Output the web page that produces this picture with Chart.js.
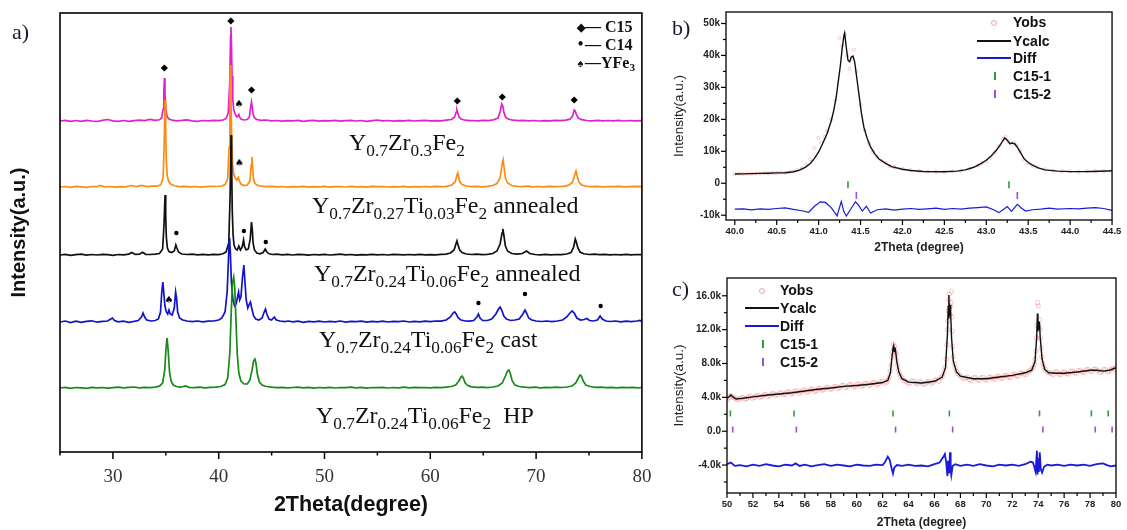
<!DOCTYPE html>
<html><head><meta charset="utf-8">
<script src="https://cdn.jsdelivr.net/npm/chart.js@4.4.1/dist/chart.umd.min.js"></script>
<style>
html,body{margin:0;padding:0;background:#fff;}
#wrap{position:relative;width:1127px;height:530px;overflow:hidden;background:#fff;}
canvas{position:absolute;}
.f{position:absolute;white-space:nowrap;font-family:"Liberation Serif","Times New Roman",serif;font-size:24px;line-height:1;color:#111;}
.f sub{font-size:0.72em;vertical-align:-0.32em;line-height:0;}
.pl{position:absolute;white-space:nowrap;font-family:"Liberation Serif","Times New Roman",serif;font-size:22px;line-height:1;color:#1a1a2e;}
.la{position:absolute;white-space:nowrap;font-family:"Liberation Serif","Times New Roman",serif;font-weight:bold;font-size:16px;line-height:1;color:#111;}
.la sub{font-size:0.7em;vertical-align:-0.25em;line-height:0;}
.la .s{display:inline-block;width:9px;text-align:center;font-size:11px;vertical-align:1px;}
.lg{position:absolute;white-space:nowrap;font-family:"Liberation Sans",Arial,sans-serif;font-weight:bold;font-size:14px;line-height:1;color:#111;}
.sym{position:absolute;}
</style></head>
<body>
<div id="wrap">
<canvas id="ca" width="665" height="530" style="left:0;top:0;width:665px;height:530px"></canvas>
<canvas id="cb" width="462" height="262" style="left:665px;top:0;width:462px;height:262px"></canvas>
<canvas id="cc" width="462" height="265" style="left:665px;top:265px;width:462px;height:265px"></canvas>

<div class="pl" style="left:12px;top:21px">a)</div>
<div class="pl" style="left:672px;top:17px">b)</div>
<div class="pl" style="left:672px;top:278px">c)</div>

<div class="f" style="left:349px;top:130px">Y<sub>0.7</sub>Zr<sub>0.3</sub>Fe<sub>2</sub></div>
<div class="f" style="left:312px;top:193px">Y<sub>0.7</sub>Zr<sub>0.27</sub>Ti<sub>0.03</sub>Fe<sub>2</sub> annealed</div>
<div class="f" style="left:314px;top:261px">Y<sub>0.7</sub>Zr<sub>0.24</sub>Ti<sub>0.06</sub>Fe<sub>2</sub> annealed</div>
<div class="f" style="left:319px;top:327px">Y<sub>0.7</sub>Zr<sub>0.24</sub>Ti<sub>0.06</sub>Fe<sub>2</sub> cast</div>
<div class="f" style="left:316px;top:403px">Y<sub>0.7</sub>Zr<sub>0.24</sub>Ti<sub>0.06</sub>Fe<sub>2</sub>&nbsp; HP</div>

<div class="la" style="left:576px;top:19px"><span class="s">&#9670;</span>&#8212; C15</div>
<div class="la" style="left:576px;top:36px"><span class="s" style="font-size:16px">&#8226;</span>&#8212; C14</div>
<div class="la" style="left:576px;top:55px"><span class="s">&#9824;</span>&#8212;YFe<sub>3</sub></div>

<!-- legend b -->
<span class="sym" style="left:991px;top:20px;width:4px;height:4px;border:1px solid rgba(235,100,100,.6);border-radius:50%"></span>
<div class="lg" style="left:1013px;top:15px">Yobs</div>
<span class="sym" style="left:977px;top:40px;width:34px;height:2px;background:#111"></span>
<div class="lg" style="left:1013px;top:34px">Ycalc</div>
<span class="sym" style="left:977px;top:57px;width:34px;height:2px;background:#1a1ad8"></span>
<div class="lg" style="left:1013px;top:51px">Diff</div>
<span class="sym" style="left:994px;top:72px;width:2px;height:8px;background:#2e9e3e"></span>
<div class="lg" style="left:1013px;top:69px">C15-1</div>
<span class="sym" style="left:994px;top:90px;width:2px;height:8px;background:#9b4fd6"></span>
<div class="lg" style="left:1013px;top:87px">C15-2</div>

<!-- legend c -->
<span class="sym" style="left:759px;top:288px;width:4px;height:4px;border:1px solid rgba(235,100,100,.6);border-radius:50%"></span>
<div class="lg" style="left:780px;top:283px">Yobs</div>
<span class="sym" style="left:745px;top:307px;width:34px;height:2px;background:#111"></span>
<div class="lg" style="left:780px;top:301px">Ycalc</div>
<span class="sym" style="left:745px;top:325px;width:34px;height:2px;background:#1a1ad8"></span>
<div class="lg" style="left:780px;top:319px">Diff</div>
<span class="sym" style="left:762px;top:340px;width:2px;height:8px;background:#2e9e3e"></span>
<div class="lg" style="left:780px;top:337px">C15-1</div>
<span class="sym" style="left:762px;top:358px;width:2px;height:8px;background:#9b4fd6"></span>
<div class="lg" style="left:780px;top:355px">C15-2</div>
</div>

<script>
// ---------- Panel a data (2Theta, intensity a.u.) ----------
const aXTicks=[30,40,50,60,70,80];
const aXMinor=[25,35,45,55,65,75];
const aOffsets={pink:331,orange:265,black:197,blue:130,green:64};

const pinkTrace=[[25,0],[25.5,0.6],[26,-0.4],[26.5,0.5],[27,-0.3],[27.5,0.7],[28,0],[28.5,-0.5],[29,0.6],[29.5,1.5],[30,0.2],[30.5,-0.4],[31,0.5],[31.5,-0.3],[32,0.4],[32.5,0.8],[33,0.3],[33.5,1.6],[34,0.6],[34.4,1.2],[34.6,3],[34.75,12],[34.82,30],[34.87,43],[34.92,28],[34.98,14],[35.05,8],[35.15,4],[35.3,2],[35.6,0.8],[36,0.2],[36.5,0.6],[37,1.2],[37.5,0.2],[38,-0.3],[38.5,0.5],[39,0.1],[39.5,0.7],[40,0.4],[40.4,1],[40.7,2.5],[40.9,8],[41.05,40],[41.12,85],[41.16,94],[41.2,80],[41.26,45],[41.33,22],[41.42,11],[41.55,7],[41.7,4],[41.82,5],[41.9,6.5],[41.97,4],[42.1,2],[42.4,1],[42.7,1.5],[42.9,4],[43.02,14],[43.1,19],[43.17,14],[43.25,7],[43.38,3],[43.6,1.5],[44,0.6],[44.5,1],[45,0.2],[45.5,0.5],[46,-0.2],[46.5,0.4],[47,0.1],[47.5,0.6],[48,-0.3],[48.5,0.3],[49,0.6],[49.5,-0.2],[50,0.4],[50.5,0.1],[51,0.7],[51.5,-0.2],[52,0.3],[52.5,0.6],[53,0],[53.5,0.5],[54,-0.3],[54.5,0.4],[55,1],[55.5,0.2],[56,0.5],[56.5,-0.2],[57,0.4],[57.5,0.1],[58,0.6],[58.5,0],[59,0.3],[59.5,0.6],[60,0.1],[60.5,0.4],[61,0.2],[61.5,0.8],[62,1.5],[62.3,4],[62.45,9],[62.52,11],[62.6,8],[62.72,4],[62.9,2],[63.3,0.8],[63.7,0.3],[64,0.5],[64.5,0.2],[65,0.6],[65.5,0.4],[66,1.2],[66.4,3],[66.62,10],[66.75,17],[66.85,15],[66.95,9],[67.1,4],[67.35,2],[67.8,0.8],[68.3,0.3],[68.8,0.6],[69.3,0.2],[69.8,0.5],[70.3,0],[70.8,0.4],[71.3,0.2],[71.8,0.6],[72.3,0.3],[72.8,0.8],[73.2,1.8],[73.45,5],[73.6,11],[73.7,10],[73.82,6],[74,3],[74.3,1.3],[74.8,0.5],[75.3,0.2],[75.8,0.6],[76.3,0.1],[76.8,0.5],[77.3,0.2],[77.8,0.6],[78.3,0],[78.8,0.5],[79.3,0.2],[80,0.4]];

const orangeTrace=[[25,0],[25.5,0.5],[26,-0.3],[26.5,0.6],[27,0.1],[27.5,-0.4],[28,0.5],[28.5,0.3],[28.8,1.6],[29.2,0.2],[29.7,0.5],[30.2,-0.2],[30.7,0.4],[31.2,0.2],[31.7,1.5],[32.2,0.3],[32.7,1.6],[33.2,0.4],[33.7,0.9],[34.2,0.8],[34.55,2.5],[34.75,10],[34.85,45],[34.93,87],[34.99,55],[35.05,25],[35.13,12],[35.25,6],[35.45,3],[35.8,1.2],[36.3,0.4],[36.8,0.6],[37.3,0.1],[37.8,0.5],[38.3,-0.2],[38.8,0.4],[39.3,0.6],[39.8,0.5],[40.3,1],[40.6,2.5],[40.85,8],[40.98,40],[41.06,105],[41.1,122],[41.15,100],[41.22,50],[41.3,24],[41.4,14],[41.55,9],[41.7,7],[41.85,9.5],[41.95,6],[42.1,3],[42.4,1.5],[42.7,2],[42.95,6],[43.07,22],[43.14,30],[43.2,20],[43.28,9],[43.4,4],[43.6,2],[44,0.8],[44.5,0.4],[45,0.7],[45.5,0.1],[46,0.5],[46.5,-0.2],[47,0.4],[47.5,0.2],[48,0.6],[48.5,-0.1],[49,0.4],[49.5,0.1],[50,0.6],[50.5,-0.2],[51,0.3],[51.5,0.5],[52,0],[52.5,0.6],[53,0.2],[53.5,0.4],[54,-0.2],[54.5,0.6],[55,0.3],[55.5,0.5],[56,0],[56.5,0.4],[57,0.2],[57.5,0.6],[58,-0.1],[58.5,0.4],[59,0.2],[59.5,0.5],[60,0.1],[60.5,0.6],[61,0.3],[61.5,0.7],[62,1.8],[62.35,5],[62.52,12],[62.6,14],[62.68,10],[62.8,5],[63,2.5],[63.4,1],[63.9,0.4],[64.4,0.6],[64.9,0.2],[65.4,0.7],[65.9,1.5],[66.3,3.5],[66.6,9],[66.78,22],[66.88,27],[66.97,20],[67.1,9],[67.3,4],[67.7,1.5],[68.2,0.6],[68.7,0.3],[69.2,0.8],[69.7,0.2],[70.2,0.5],[70.7,0.1],[71.2,0.6],[71.7,0.3],[72.2,0.5],[72.7,0.8],[73.1,1.8],[73.45,5],[73.65,12],[73.77,16],[73.88,11],[74.05,5],[74.3,2],[74.8,0.7],[75.3,0.3],[75.8,0.6],[76.3,0.1],[76.8,0.5],[77.3,0.3],[77.8,0.6],[78.3,0.1],[78.8,0.4],[79.3,0.6],[80,0.3]];

const blackTrace=[[25,0],[25.5,0.6],[26,-0.4],[26.5,0.4],[27,0.8],[27.5,-0.2],[28,0.5],[28.5,0],[29,0.6],[29.5,0.3],[30,-0.3],[30.5,0.5],[31,0.2],[31.5,0.9],[31.8,2.5],[32.1,0.6],[32.5,0.8],[32.8,2.8],[33.1,0.7],[33.5,0.5],[34,0.8],[34.4,1.5],[34.7,6],[34.83,30],[34.93,60],[34.99,40],[35.05,18],[35.15,7],[35.3,3.5],[35.55,2.5],[35.8,4],[35.95,10],[36.05,7],[36.2,3],[36.5,1],[37,0.5],[37.5,0.9],[38,0.2],[38.5,0.7],[39,0.1],[39.5,0.6],[40,0.4],[40.4,1.2],[40.7,3],[40.95,12],[41.08,60],[41.17,120],[41.22,95],[41.28,45],[41.36,20],[41.45,10],[41.6,6],[41.75,5],[41.9,9],[42.05,5],[42.22,8],[42.35,15],[42.45,8],[42.6,5],[42.8,6],[42.98,16],[43.1,33],[43.17,26],[43.25,12],[43.38,5],[43.6,2],[43.9,1.2],[44.2,2.5],[44.4,6],[44.52,3.5],[44.75,1.2],[45.1,0.5],[45.5,0.8],[46,0.2],[46.5,0.6],[47,0],[47.5,0.7],[48,0.3],[48.5,-0.2],[49,0.5],[49.5,0.2],[50,0.6],[50.5,0],[51,0.4],[51.5,0.8],[52,0.1],[52.5,0.5],[53,-0.2],[53.5,0.4],[54,0.1],[54.5,0.6],[55,0.2],[55.5,0.5],[56,0],[56.5,0.6],[57,0.3],[57.5,0.1],[58,0.5],[58.5,0.2],[59,0.7],[59.5,0.1],[60,0.4],[60.5,0.2],[61,0.6],[61.5,0.9],[61.9,2],[62.25,5],[62.42,11],[62.52,14],[62.62,10],[62.78,5],[63,2.5],[63.4,1],[63.9,0.5],[64.4,0.8],[64.9,0.3],[65.4,0.6],[65.9,1.5],[66.3,4],[66.6,11],[66.78,22],[66.86,26],[66.95,20],[67.1,9],[67.3,4],[67.7,1.5],[68.2,0.8],[68.7,1.5],[69.1,4],[69.4,1.5],[69.9,0.5],[70.4,0.2],[70.9,0.6],[71.4,0.1],[71.9,0.5],[72.4,0.3],[72.9,1],[73.3,2.5],[73.55,8],[73.7,16],[73.8,13],[73.95,7],[74.15,3],[74.5,1.2],[75,0.5],[75.5,0.8],[76,0.3],[76.5,0.6],[77,0.1],[77.5,0.5],[78,0.2],[78.5,0.6],[79,0.1],[79.5,0.5],[80,0.3]];

const blueTrace=[[25,0],[25.5,1],[26,-0.5],[26.5,0.8],[27,-0.3],[27.5,0.6],[28,1.2],[28.5,-0.2],[29,0.7],[29.5,1],[29.8,3],[29.95,4],[30.15,1.5],[30.5,0.2],[31,0.8],[31.5,-0.3],[32,0.6],[32.4,1.5],[32.7,5],[32.85,9],[33,5],[33.2,2],[33.6,1],[34,1.5],[34.3,3],[34.5,10],[34.62,30],[34.72,40],[34.82,28],[34.92,16],[35.05,10],[35.18,8],[35.3,12],[35.42,8],[35.6,7],[35.8,14],[35.93,30],[36.02,24],[36.12,10],[36.3,4],[36.6,2],[37,1],[37.5,0.4],[38,1],[38.5,0.2],[39,0.8],[39.5,1],[40,2],[40.3,4],[40.6,10],[40.8,30],[40.95,70],[41.03,84],[41.1,70],[41.2,40],[41.35,22],[41.5,16],[41.65,18],[41.78,25],[41.88,30],[41.98,22],[42.1,25],[42.25,45],[42.38,57],[42.48,40],[42.6,22],[42.75,14],[42.9,18],[43.0,20],[43.12,14],[43.3,6],[43.5,3],[43.8,2],[44.1,4],[44.3,10],[44.42,13],[44.55,8],[44.75,3],[45.0,2],[45.25,5],[45.45,2],[45.8,1],[46.2,0.3],[46.6,1],[47,0.2],[47.5,0.9],[48,-0.3],[48.5,0.6],[49,0.2],[49.5,0.9],[50,0],[50.5,0.7],[51,0.2],[51.5,1],[52,-0.2],[52.5,0.6],[53,0.3],[53.5,0.8],[54,-0.1],[54.5,0.7],[55,0.2],[55.5,0.9],[56,0],[56.5,0.6],[57,0.3],[57.5,1],[58,0],[58.5,0.7],[59,0.2],[59.5,0.8],[60,0.4],[60.5,1],[61,0.8],[61.5,2],[61.9,5],[62.15,9],[62.3,10],[62.45,8],[62.65,4],[62.9,2],[63.3,1],[63.7,0.8],[64.1,1.5],[64.4,5],[64.55,8],[64.7,4],[64.95,1.5],[65.4,1.5],[65.8,3],[66.2,8],[66.45,13],[66.6,15],[66.75,12],[66.95,6],[67.2,3],[67.6,1.5],[68,2],[68.4,3],[68.75,8],[68.95,12],[69.1,9],[69.3,4],[69.6,2],[70,1],[70.5,0.5],[71,1],[71.5,0.4],[72,1],[72.5,2],[72.9,5],[73.2,9],[73.4,11],[73.6,9],[73.85,4],[74.2,2],[74.55,2.5],[74.8,3.5],[75.05,1.5],[75.4,1],[75.8,2],[76.05,6],[76.25,3],[76.6,1],[77,0.5],[77.5,1],[78,0.2],[78.5,0.8],[79,0.3],[79.5,1],[79.8,1.5],[80,0.6]];

const greenTrace=[[25,0],[25.5,0.6],[26,-0.3],[26.5,0.5],[27,0.2],[27.5,-0.4],[28,0.6],[28.5,0.1],[29,0.5],[29.5,-0.2],[30,0.4],[30.5,0.8],[31,0.1],[31.5,0.6],[32,1],[32.5,0.2],[33,0.6],[33.5,0.4],[34,0.9],[34.4,1.8],[34.7,5],[34.9,18],[35.02,40],[35.12,50],[35.22,38],[35.35,16],[35.5,7],[35.7,3],[36,1.5],[36.4,0.8],[36.85,2],[37.2,0.6],[37.7,0.3],[38.2,0.8],[38.7,0.2],[39.2,0.6],[39.7,0.8],[40.2,1.5],[40.6,3.5],[40.85,10],[41.05,35],[41.2,80],[41.3,105],[41.42,111],[41.52,100],[41.62,70],[41.75,35],[41.9,15],[42.1,7],[42.4,4],[42.7,4],[42.95,8],[43.15,18],[43.3,27],[43.42,29],[43.52,25],[43.65,14],[43.85,6],[44.1,3],[44.5,1.5],[45,0.8],[45.5,0.3],[46,0.7],[46.5,0.1],[47,0.5],[47.5,0.8],[48,0.2],[48.5,0.6],[49,-0.1],[49.5,0.5],[50,0.2],[50.5,0.7],[51,0],[51.5,0.5],[52,0.3],[52.5,0.8],[53,0.1],[53.5,0.6],[54,-0.2],[54.5,0.5],[55,0.3],[55.5,0.7],[56,0],[56.5,0.5],[57,0.2],[57.5,0.8],[58,0.1],[58.5,0.6],[59,0.3],[59.5,0.5],[60,0.1],[60.5,0.7],[61,0.4],[61.5,0.9],[62,1.5],[62.4,3],[62.7,7],[62.9,11],[63.0,12],[63.12,10],[63.3,5],[63.55,2.5],[63.9,1.2],[64.4,0.6],[64.9,0.9],[65.4,0.4],[65.9,1],[66.4,2],[66.8,5],[67.1,12],[67.3,17],[67.42,18],[67.55,15],[67.75,7],[68,3],[68.4,1.5],[68.9,0.8],[69.4,0.4],[69.9,0.8],[70.4,0.2],[70.9,0.6],[71.4,0.3],[71.9,0.8],[72.4,0.5],[72.9,1],[73.4,2],[73.75,5],[74.0,10],[74.15,13],[74.28,12],[74.45,7],[74.7,3],[75.1,1.5],[75.6,0.6],[76.1,0.9],[76.6,0.3],[77.1,0.7],[77.6,0.2],[78.1,0.6],[78.6,0.3],[79.1,0.7],[79.6,0.2],[80,0.5]];

const c15Marks=[[34.86,384],[41.15,431],[43.1,362],[62.55,351],[66.8,355],[73.6,352]];
const c14Marks=[[36.0,219],[42.38,221],[44.45,210],[64.55,149],[68.95,158],[76.1,146]];
const yfe3Marks=[[41.92,349],[41.95,290],[35.3,153]];

// ---------- Panel b data (2Theta, counts) ----------
const bXTicks=[40,40.5,41,41.5,42,42.5,43,43.5,44,44.5];
const bXMinor=[40.25,40.75,41.25,41.75,42.25,42.75,43.25,43.75,44.25];
const bYTicks=[-10000,0,10000,20000,30000,40000,50000];
const bYMinor=[-5000,5000,15000,25000,35000,45000];
const bCalc=[[40.0,2900],[40.1,2950],[40.2,3000],[40.3,3100],[40.4,3150],[40.5,3250],[40.6,3300],[40.7,3600],[40.77,4100],[40.84,5000],[40.9,6200],[40.95,7800],[41.0,9800],[41.05,12500],[41.1,15500],[41.15,19500],[41.18,22700],[41.21,27000],[41.23,31000],[41.26,37000],[41.28,42000],[41.3,46000],[41.31,47000],[41.33,42500],[41.35,38500],[41.37,38000],[41.39,39500],[41.41,39800],[41.43,38000],[41.46,32000],[41.48,28000],[41.51,22000],[41.54,17500],[41.58,14000],[41.62,11300],[41.67,9200],[41.72,7600],[41.8,6200],[41.87,5200],[42.0,4400],[42.1,4000],[42.25,3700],[42.5,3600],[42.65,3800],[42.75,4200],[42.85,5000],[42.92,5900],[43.0,7200],[43.06,8600],[43.12,10300],[43.17,12200],[43.22,14200],[43.25,13500],[43.28,12400],[43.31,12600],[43.34,12300],[43.37,11300],[43.41,9500],[43.45,7700],[43.5,6500],[43.55,5700],[43.62,4800],[43.7,4200],[43.85,3800],[44.0,3650],[44.15,3650],[44.25,3700],[44.35,3750],[44.45,3850],[44.5,3900]];
const bObs=[[40.0,2800],[40.05,3000],[40.1,2900],[40.15,3050],[40.2,2950],[40.25,3100],[40.3,3050],[40.35,3200],[40.4,3100],[40.45,3250],[40.5,3200],[40.55,3350],[40.6,3250],[40.65,3450],[40.7,3700],[40.75,4100],[40.8,4600],[40.85,5800],[40.9,7500],[40.95,11000],[41.0,14200],[41.03,12800],[41.07,14500],[41.1,16200],[41.15,20000],[41.2,26000],[41.25,45500],[41.28,43000],[41.31,46500],[41.34,40000],[41.37,35800],[41.4,39000],[41.42,41800],[41.45,35000],[41.5,24500],[41.55,16500],[41.6,12500],[41.65,9800],[41.7,8300],[41.75,7000],[41.8,6300],[41.85,5400],[41.9,5000],[42.0,4500],[42.1,4100],[42.2,3800],[42.3,3650],[42.4,3600],[42.5,3550],[42.6,3750],[42.7,3950],[42.8,4500],[42.9,5600],[42.95,6300],[43.0,6900],[43.05,8000],[43.1,9600],[43.15,11500],[43.2,13800],[43.23,14500],[43.26,13200],[43.3,12200],[43.33,12800],[43.36,11800],[43.4,10000],[43.45,7400],[43.5,6300],[43.55,5500],[43.6,5000],[43.7,4300],[43.8,3900],[43.9,3700],[44.0,3700],[44.1,3600],[44.2,3750],[44.3,3700],[44.4,3800],[44.5,3950]];
const bDiff=[[40.0,-8100],[40.1,-8000],[40.2,-8300],[40.3,-8000],[40.4,-8200],[40.5,-7900],[40.6,-7700],[40.7,-8200],[40.8,-8600],[40.88,-9100],[40.95,-7200],[41.02,-5800],[41.08,-6000],[41.15,-7600],[41.22,-10200],[41.27,-5700],[41.3,-8800],[41.33,-10300],[41.38,-8200],[41.44,-5800],[41.48,-7000],[41.52,-8700],[41.57,-7200],[41.62,-9300],[41.7,-8300],[41.8,-8000],[41.9,-8400],[42.0,-8100],[42.1,-7900],[42.2,-8200],[42.3,-8000],[42.4,-7800],[42.5,-8200],[42.6,-7900],[42.7,-8100],[42.8,-7800],[42.9,-7600],[43.0,-7400],[43.08,-8200],[43.15,-9200],[43.2,-8300],[43.25,-7300],[43.3,-8800],[43.37,-6600],[43.42,-7800],[43.47,-8700],[43.55,-8300],[43.65,-8100],[43.75,-7800],[43.85,-8100],[44.0,-7900],[44.1,-8000],[44.2,-7800],[44.3,-7600],[44.4,-7900],[44.5,-8500]];
const bC151=[41.35,43.27];
const bC152=[41.45,43.37];
const bC151Level=-500, bC152Level=-3800;

// ---------- Panel c data (2Theta, counts) ----------
const cXTicks=[50,52,54,56,58,60,62,64,66,68,70,72,74,76,78,80];
const cXMinor=[51,53,55,57,59,61,63,65,67,69,71,73,75,77,79];
const cYTicks=[-4000,0,4000,8000,12000,16000];
const cYMinor=[-6000,-2000,2000,6000,10000,14000];
const cCalc=[[50.0,3900],[50.2,4100],[50.3,4300],[50.45,4050],[50.7,3800],[51.0,3850],[51.5,3950],[52,4050],[53,4250],[54,4400],[55,4550],[56,4750],[57,4950],[58,5100],[59,5300],[60,5400],[61,5550],[62,5750],[62.4,6000],[62.6,6900],[62.7,8400],[62.8,9800],[62.85,10100],[62.9,9400],[62.95,9900],[63.0,9500],[63.1,8200],[63.25,7000],[63.5,6200],[64,5800],[65,5700],[66,5900],[66.6,6400],[66.85,7500],[67.0,11500],[67.06,14800],[67.1,13300],[67.12,16100],[67.16,13600],[67.2,14900],[67.25,13900],[67.32,11000],[67.45,8300],[67.7,7000],[68,6500],[69,6200],[70,6200],[71,6400],[72,6600],[73,6900],[73.5,7200],[73.75,8200],[73.88,11000],[73.94,13900],[73.98,11800],[74.02,13000],[74.06,12000],[74.1,12900],[74.15,11200],[74.3,8500],[74.5,7300],[74.8,6900],[75.5,6850],[76,6850],[77,7000],[78,7200],[78.5,7200],[79,7100],[79.5,7200],[80,7500]];
const cObs=[[50.0,3700],[50.15,3950],[50.3,4200],[50.45,4000],[50.6,3900],[50.75,3800],[50.9,3750],[51.05,3900],[51.2,4000],[51.35,3800],[51.5,3850],[51.65,4050],[51.8,4150],[51.95,3900],[52.1,4000],[52.25,4200],[52.4,4250],[52.55,4000],[52.7,4100],[52.85,4300],[53.0,4350],[53.15,4100],[53.3,4200],[53.45,4400],[53.6,4450],[53.75,4250],[53.9,4300],[54.05,4550],[54.2,4500],[54.35,4300],[54.5,4400],[54.65,4650],[54.8,4600],[54.95,4400],[55.1,4500],[55.25,4750],[55.4,4750],[55.55,4500],[55.7,4600],[55.85,4850],[56.0,4850],[56.15,4600],[56.3,4700],[56.45,4950],[56.6,4950],[56.75,4700],[56.9,4800],[57.05,5050],[57.2,5050],[57.35,4850],[57.5,4900],[57.65,5150],[57.8,5200],[57.95,4950],[58.1,5000],[58.25,5250],[58.4,5300],[58.55,5050],[58.7,5150],[58.85,5400],[59.0,5400],[59.15,5150],[59.3,5250],[59.45,5500],[59.6,5500],[59.75,5250],[59.9,5300],[60.05,5550],[60.2,5550],[60.35,5300],[60.5,5400],[60.65,5650],[60.8,5650],[60.95,5400],[61.1,5500],[61.25,5750],[61.4,5750],[61.55,5500],[61.7,5600],[61.85,5850],[62.0,5900],[62.15,5650],[62.3,5800],[62.42,6100],[62.5,6400],[62.58,7100],[62.65,7800],[62.7,8700],[62.75,9300],[62.82,10300],[62.88,9700],[62.95,10000],[63.0,9300],[63.05,9000],[63.1,8400],[63.15,7800],[63.22,7200],[63.3,6800],[63.4,6500],[63.5,6300],[63.65,6000],[63.8,5900],[63.95,5650],[64.1,5700],[64.25,5950],[64.4,5900],[64.55,5650],[64.7,5600],[64.85,5850],[65.0,5800],[65.15,5550],[65.3,5600],[65.45,5850],[65.6,5900],[65.75,5650],[65.9,5800],[66.05,6050],[66.2,6100],[66.35,5900],[66.5,6300],[66.62,6500],[66.75,7000],[66.82,7600],[66.9,8500],[66.95,10200],[67.0,12000],[67.03,13000],[67.06,14200],[67.1,15500],[67.14,16200],[67.17,14700],[67.2,13800],[67.23,14800],[67.26,15200],[67.3,16500],[67.33,13500],[67.35,11800],[67.4,10000],[67.45,8800],[67.52,8000],[67.6,7500],[67.7,7100],[67.8,6800],[67.95,6600],[68.1,6400],[68.25,6200],[68.4,6300],[68.55,6400],[68.7,6100],[68.85,6000],[69.0,6300],[69.15,6350],[69.3,6100],[69.45,6000],[69.6,6300],[69.75,6350],[69.9,6100],[70.05,6050],[70.2,6350],[70.35,6400],[70.5,6200],[70.65,6150],[70.8,6450],[70.95,6500],[71.1,6300],[71.25,6250],[71.4,6550],[71.55,6600],[71.7,6400],[71.85,6350],[72.0,6700],[72.15,6750],[72.3,6550],[72.45,6500],[72.6,6850],[72.75,6900],[72.9,6750],[73.05,6700],[73.2,7000],[73.35,7150],[73.5,7300],[73.6,7500],[73.7,7900],[73.76,8500],[73.82,9500],[73.86,11000],[73.9,12500],[73.95,15200],[74.0,14800],[74.05,12300],[74.1,13200],[74.14,12000],[74.18,11000],[74.23,9800],[74.28,8800],[74.35,8000],[74.45,7600],[74.55,7300],[74.7,7000],[74.85,6900],[75.0,6800],[75.15,6700],[75.3,7000],[75.45,7000],[75.6,6750],[75.75,6700],[75.9,6950],[76.05,7000],[76.2,6800],[76.35,6750],[76.5,7050],[76.65,7100],[76.8,6900],[76.95,6850],[77.1,7150],[77.25,7200],[77.4,7000],[77.55,6950],[77.7,7250],[77.85,7300],[78.0,7100],[78.15,7050],[78.3,7300],[78.45,7350],[78.6,7150],[78.75,6950],[78.9,7050],[79.05,7300],[79.2,7250],[79.35,7000],[79.5,7100],[79.65,7350],[79.8,7400],[79.9,7250],[80.0,7600]];
const cDiff=[[50.0,-3900],[50.3,-3700],[50.6,-4100],[51,-4000],[51.5,-4150],[52,-3950],[52.5,-4100],[53,-3900],[53.5,-4050],[54,-4150],[54.5,-3950],[55,-4050],[55.3,-3800],[55.6,-4100],[56,-3950],[56.5,-4150],[57,-4000],[57.5,-3900],[58,-4100],[58.5,-3950],[59,-4050],[59.5,-4150],[60,-3950],[60.5,-4050],[61,-4100],[61.5,-3950],[62,-4000],[62.2,-3600],[62.4,-3000],[62.55,-3400],[62.7,-4400],[62.8,-5000],[62.9,-4300],[63.1,-4000],[63.5,-4100],[64,-3950],[64.5,-4100],[65,-4050],[65.5,-4150],[66,-3900],[66.4,-3700],[66.7,-3000],[66.8,-2700],[66.9,-3600],[67.0,-5300],[67.05,-3500],[67.12,-5000],[67.2,-2500],[67.25,-4600],[67.3,-5200],[67.4,-4100],[67.6,-3900],[68,-4100],[68.5,-3950],[69,-4100],[69.5,-3900],[70,-4050],[70.5,-4150],[71,-3950],[71.5,-4050],[72,-3950],[72.5,-4100],[73,-3900],[73.4,-3600],[73.6,-3700],[73.8,-4800],[73.9,-2300],[73.95,-5100],[74.0,-3200],[74.05,-4800],[74.12,-2500],[74.2,-4500],[74.3,-4900],[74.45,-4200],[74.7,-3950],[75,-4050],[75.5,-3950],[76,-4100],[76.5,-3950],[77,-4050],[77.5,-3950],[78,-4100],[78.5,-3900],[79,-3800],[79.3,-4000],[79.6,-4150],[80,-4050]];
const cC151=[50.26,55.17,62.8,67.15,74.1,78.1,79.4];
const cC152=[50.44,55.35,63.0,67.4,74.36,78.4,79.7];
const cC151Level=2100, cC152Level=200;

// ---------- helpers ----------
const pts=(arr,off=0)=>arr.map(p=>({x:p[0],y:p[1]+off}));
const at=(xs,lvl)=>xs.map(v=>({x:v,y:lvl}));

const frameTicks={id:'frameTicks',afterDatasetsDraw(chart,args,o){
  const {ctx,chartArea:a,scales:{x,y}}=chart;
  ctx.save();ctx.strokeStyle='#000';ctx.lineWidth=o.tickWidth;
  const seg=(x1,y1,x2,y2)=>{ctx.beginPath();ctx.moveTo(x1,y1);ctx.lineTo(x2,y2);ctx.stroke();};
  (o.xMajor||[]).forEach(v=>{const p=x.getPixelForValue(v);seg(p,a.bottom,p,a.bottom+o.major);});
  (o.xMinor||[]).forEach(v=>{const p=x.getPixelForValue(v);seg(p,a.bottom,p,a.bottom+o.minor);});
  (o.yMajor||[]).forEach(v=>{const p=y.getPixelForValue(v);seg(a.left,p,a.left-o.major,p);});
  (o.yMinor||[]).forEach(v=>{const p=y.getPixelForValue(v);seg(a.left,p,a.left-o.minor,p);});
  ctx.lineWidth=o.frame;ctx.strokeRect(a.left,a.top,a.right-a.left,a.bottom-a.top);
  ctx.restore();
}};

function spadeImg(size){
  const c=document.createElement('canvas');c.width=size;c.height=size;
  const g=c.getContext('2d');g.fillStyle='#000';g.font=size+'px "DejaVu Sans"';
  g.textAlign='center';g.textBaseline='middle';g.fillText('\u2660',size/2,size/2+1);
  return c;
}

Chart.defaults.animation=false;
Chart.defaults.plugins.legend.display=false;
Chart.defaults.plugins.tooltip.enabled=false;
Chart.defaults.events=[];

const lineDs=(label,data,color,w)=>({label,data,showLine:true,borderColor:color,backgroundColor:color,borderWidth:w,pointRadius:0,tension:0});

// ---------- Chart a ----------
new Chart(document.getElementById('ca'),{
  type:'scatter',
  data:{datasets:[
    {label:'C15',data:pts(c15Marks),pointStyle:'rectRot',pointRadius:3.6,backgroundColor:'#000',borderColor:'#000',borderWidth:0},
    {label:'C14',data:pts(c14Marks),pointStyle:'circle',pointRadius:2.2,backgroundColor:'#000',borderColor:'#000',borderWidth:0},
    {label:'YFe3',data:pts(yfe3Marks),pointStyle:spadeImg(10),pointRadius:4},
    lineDs('Y0.7Zr0.24Ti0.06Fe2 HP',pts(greenTrace,aOffsets.green),'#178a17',1.7),
    lineDs('Y0.7Zr0.24Ti0.06Fe2 cast',pts(blueTrace,aOffsets.blue),'#1212cc',1.7),
    lineDs('Y0.7Zr0.24Ti0.06Fe2 annealed',pts(blackTrace,aOffsets.black),'#111111',1.7),
    lineDs('Y0.7Zr0.27Ti0.03Fe2 annealed',pts(orangeTrace,aOffsets.orange),'#ff8a12',1.7),
    lineDs('Y0.7Zr0.3Fe2',pts(pinkTrace,aOffsets.pink),'#e020c8',1.7)
  ]},
  options:{responsive:false,devicePixelRatio:1,
    layout:{padding:{left:0,right:9,top:13,bottom:0}},
    scales:{
      x:{type:'linear',min:25,max:80,
        afterBuildTicks:s=>{s.ticks=aXTicks.map(v=>({value:v}));},
        afterFit:s=>{s.height=78;},
        ticks:{autoSkip:false,maxRotation:0,padding:13.6,color:'#333',font:{family:'"Liberation Serif", serif',size:19}},
        grid:{display:false,drawTicks:false},border:{display:false},
        title:{display:true,text:'2Theta(degree)',color:'#111',font:{family:'"Liberation Sans", Arial, sans-serif',size:21.5,weight:'bold'},padding:{top:0,bottom:12}}},
      y:{type:'linear',min:0,max:439,
        afterFit:s=>{s.width=60;},
        ticks:{display:false},grid:{display:false,drawTicks:false},border:{display:false},
        title:{display:true,text:'Intensity(a.u.)',color:'#111',font:{family:'"Liberation Sans", Arial, sans-serif',size:20,weight:'bold'},padding:{top:7,bottom:0}}}
    },
    plugins:{frameTicks:{xMajor:aXTicks,xMinor:aXMinor,major:7,minor:3.5,tickWidth:1.5,frame:1.6}}
  },
  plugins:[frameTicks]
});

// ---------- Chart b/c common ----------
function refineChart(id,cfg){
  new Chart(document.getElementById(id),{
    type:'scatter',
    data:{datasets:[
      {label:'C15-1',data:at(cfg.t1,cfg.l1),pointStyle:'line',rotation:90,pointRadius:cfg.tickR,borderColor:'#2e9e3e',borderWidth:1.6},
      {label:'C15-2',data:at(cfg.t2,cfg.l2),pointStyle:'line',rotation:90,pointRadius:cfg.tickR,borderColor:'#9b4fd6',borderWidth:1.6},
      lineDs('Ycalc',pts(cfg.calc),'#111111',1.4),
      {label:'Yobs',data:pts(cfg.obs),pointStyle:'circle',pointRadius:cfg.obsR,backgroundColor:'rgba(255,255,255,0)',borderColor:cfg.obsC,borderWidth:0.8},
      lineDs('Diff',pts(cfg.diff),'#1a1ad8',cfg.diffW)
    ]},
    options:{responsive:false,devicePixelRatio:1,
      layout:{padding:{left:0,right:11,top:cfg.top,bottom:0}},
      scales:{
        x:{type:'linear',min:cfg.xmin,max:cfg.xmax,
          afterBuildTicks:s=>{s.ticks=cfg.xt.map(v=>({value:v}));},
          afterFit:s=>{s.height=cfg.xh;},
          ticks:{autoSkip:false,maxRotation:0,padding:5.7,color:'#222',callback:cfg.xfmt,font:{family:'"Liberation Sans", Arial, sans-serif',size:9.5,weight:'bold'}},
          grid:{display:false,drawTicks:false},border:{display:false},
          title:{display:true,text:'2Theta (degree)',color:'#222',font:{family:'"Liberation Sans", Arial, sans-serif',size:12,weight:'bold'},padding:{top:0,bottom:cfg.xtp}}},
        y:{type:'linear',min:cfg.ymin,max:cfg.ymax,
          afterBuildTicks:s=>{s.ticks=cfg.yt.map(v=>({value:v}));},
          afterFit:s=>{s.width=cfg.yw;},
          ticks:{autoSkip:false,padding:6,color:'#222',callback:cfg.yfmt,font:{family:'"Liberation Sans", Arial, sans-serif',size:10,weight:'bold'}},
          grid:{display:false,drawTicks:false},border:{display:false},
          title:{display:true,text:'Intensity(a.u.)',color:'#222',font:{family:'"Liberation Sans", Arial, sans-serif',size:13.5},padding:{top:6,bottom:0}}}
      },
      plugins:{frameTicks:{xMajor:cfg.xt,xMinor:cfg.xm,yMajor:cfg.yt,yMinor:cfg.ym,major:5,minor:3,tickWidth:1.2,frame:1.3}}
    },
    plugins:[frameTicks]
  });
}

refineChart('cb',{t1:bC151,t2:bC152,l1:bC151Level,l2:bC152Level,tickR:3.5,calc:bCalc,obs:bObs,obsR:1.6,obsC:'rgba(240,110,110,0.45)',diff:bDiff,diffW:1.2,
  top:10,xmin:39.895,xmax:44.5,xt:bXTicks,xm:bXMinor,xh:42,xtp:6.8,xfmt:v=>Number(v).toFixed(1),
  ymin:-11500,ymax:53600,yt:bYTicks,ym:bYMinor,yw:61,yfmt:v=>v===0?'0':(v/1000)+'k'});

refineChart('cc',{t1:cC151,t2:cC152,l1:cC151Level,l2:cC152Level,tickR:3,calc:cCalc,obs:cObs,obsR:2.2,obsC:'rgba(240,110,110,0.5)',diff:cDiff,diffW:1.8,
  top:13,xmin:50,xmax:80,xt:cXTicks,xm:cXMinor,xh:37,xtp:0,xfmt:v=>String(v),
  ymin:-7300,ymax:18100,yt:cYTicks,ym:cYMinor,yw:62,yfmt:v=>v===0?'0.0':(v/1000).toFixed(1)+'k'});
</script>
</body></html>
